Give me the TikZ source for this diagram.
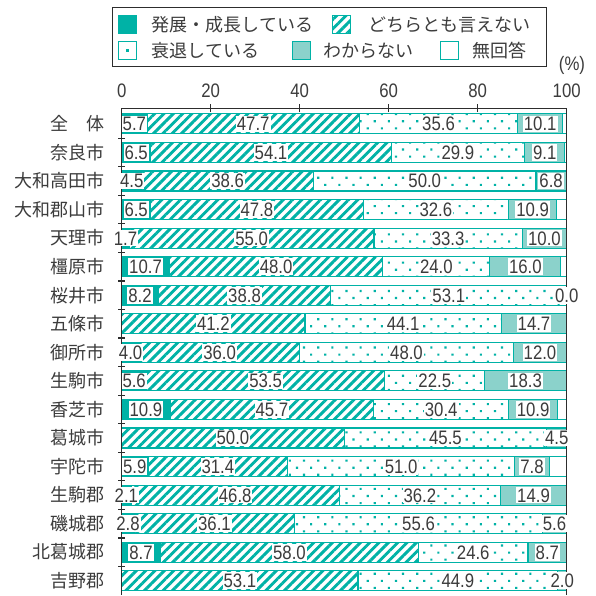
\documentclass[tikz,border=0pt]{standalone}
\usepackage{fontspec}
\setmainfont{Noto Sans CJK JP}
\newfontfamily\numfont{Liberation Sans}[FakeStretch=0.86]
\usetikzlibrary{patterns.meta, positioning}
\definecolor{barteal}{RGB}{0,178,166}
\definecolor{barlight}{RGB}{139,210,203}
\definecolor{inkgray}{RGB}{60,60,60}
\definecolor{axisgray}{RGB}{45,45,45}

\newcommand\cityrows{
    全　体/5.7/47.7/35.6/10.1,
    奈良市/6.5/54.1/29.9/9.1,
    大和高田市/4.5/38.6/50.0/6.8,
    大和郡山市/6.5/47.8/32.6/10.9,
    天理市/1.7/55.0/33.3/10.0,
    橿原市/10.7/48.0/24.0/16.0,
    桜井市/8.2/38.8/53.1/0.0,
    五條市/0/41.2/44.1/14.7,
    御所市/4.0/36.0/48.0/12.0,
    生駒市/5.6/53.5/22.5/18.3,
    香芝市/10.9/45.7/30.4/10.9,
    葛城市/0/50.0/45.5/4.5,
    宇陀市/5.9/31.4/51.0/7.8,
    生駒郡/2.1/46.8/36.2/14.9,
    磯城郡/2.8/36.1/55.6/5.6,
    北葛城郡/8.7/58.0/24.6/8.7,
    吉野郡/0/53.1/44.9/2.0}

\begin{document}
\begin{tikzpicture}[x=1pt, y=-1pt,
    every node/.style={text=inkgray},
    city/.style={anchor=east, inner sep=0pt, font=\fontsize{18pt}{18pt}\selectfont},
    val/.style={fill=white, inner xsep=1pt, inner ysep=1.4pt, text height=13.9pt,
        text depth=0pt, font=\numfont\fontsize{19.5pt}{19.5pt}\selectfont},
    scalelab/.style={inner sep=0pt, font=\numfont\fontsize{19.5pt}{19.5pt}\selectfont},
    keybox/.style={minimum size=18pt, inner sep=0pt, draw=barteal, line width=1.1pt},
    keytext/.style={inner sep=0pt, font=\fontsize{18pt}{18pt}\selectfont},
    growbar/.style={draw=barteal, line width=1.1pt, fill=barteal},
    evenbar/.style={draw=barteal, line width=1.1pt,
        pattern={Lines[angle=45, distance=6.6pt, line width=2.9pt]}, pattern color=barteal},
    downbar/.style={draw=barteal, line width=1.1pt,
        pattern={Dots[angle=45, distance=10pt, radius=1.5pt]}, pattern color=barteal},
    unkbar/.style={draw=barteal, line width=1.1pt, fill=barlight},
    nabar/.style={draw=barteal, line width=1.1pt, fill=white},
    axis/.style={draw=axisgray, line width=1.2pt}]

    \fill[white] (0,0) rectangle (596,595);
    \useasboundingbox (0,0) rectangle (596,595);

    % legend
    \draw[axis] (112.7,7.5) rectangle (546.7,66.7);
    \node[keybox, fill=barteal] (k1) at (127.8,24.5) {};
    \node[keytext, right=14pt of k1] (t1) {発展・成長している};
    \node[keybox, pattern={Lines[angle=45, distance=6.6pt, line width=2.9pt]},
        pattern color=barteal] (k2) at (341.5,24.5) {};
    \node[keytext, right=16pt of k2] (t2) {どちらとも言えない};
    \node[keybox, fill=white] (k3) at (127.8,50.5) {};
    \fill[barteal] ([shift={(-1.4pt,-1.4pt)}]k3.center) rectangle ([shift={(1.4pt,1.4pt)}]k3.center);
    \node[keytext, right=14pt of k3] (t3) {衰退している};
    \node[keybox, fill=barlight] (k4) at (301.3,50.5) {};
    \node[keytext, right=12pt of k4] (t4) {わからない};
    \node[keybox, fill=white] (k5) at (449.5,50.5) {};
    \node[keytext, right=13pt of k5] (t5) {無回答};
    \node[scalelab] (pct) at (572,65) {(\%)};

    % city names
    \foreach \lab/\a/\b/\c/\d [count=\i from 0] in \cityrows {
        \pgfmathsetmacro\yc{123.9+28.55*\i}
        \node[city] (n\i) at (104.5,\yc) {\lab};
    }

    \begin{scope}[shift={(121.7,0)}, x=4.45pt]
        \foreach \lab/\a/\b/\c/\d [count=\i from 0] in \cityrows {
            \pgfmathsetmacro\yt{113.9+28.55*\i}
            \pgfmathsetmacro\yb{133.9+28.55*\i}
            \pgfmathsetmacro\xb{min(\a+\b,100)}
            \pgfmathsetmacro\xc{min(\a+\b+\c,100)}
            \pgfmathsetmacro\xd{min(\a+\b+\c+\d,100)}
            \ifdim\a pt>0pt \draw[growbar] (0,\yt) rectangle (\a,\yb); \fi
            \draw[evenbar] (\a,\yt) rectangle (\xb,\yb);
            \draw[downbar] (\xb,\yt) rectangle (\xc,\yb);
            \ifdim\d pt>0pt \draw[unkbar] (\xc,\yt) rectangle (\xd,\yb); \fi
            \ifdim\xd pt<99.95pt \draw[nabar] (\xd,\yt) rectangle (100,\yb); \fi
        }

        % scale and frame
        \draw[axis] (0,108.3) -- (100,108.3);
        \draw[axis] (0,108.3) -- (0,595);
        \draw[axis] (100,108.3) -- (100,595);
        \foreach \v in {20,40,60,80}
            \draw[axis] (\v,104.3) -- (\v,112);
        \foreach \k in {0,...,15}
            \draw[axis] (-0.75,{138.2+28.55*\k}) -- (0.75,{138.2+28.55*\k});
        \foreach \v in {0,20,...,100}
            \node[scalelab] (s\v) at (\v,91) {\v};

        % values
        \foreach \lab/\a/\b/\c/\d [count=\i from 0] in \cityrows {
            \pgfmathsetmacro\yc{123.9+28.55*\i}
            \pgfmathsetmacro\xb{min(\a+\b,100)}
            \pgfmathsetmacro\xc{min(\a+\b+\c,100)}
            \pgfmathsetmacro\xd{min(\a+\b+\c+\d,100)}
            \edef\tmp{\a}\def\nil{0}
            \ifx\tmp\nil\else \node[val] (a\i) at ({\a/2},\yc) {\a}; \fi
            \node[val] (b\i) at ({(\a+\xb)/2},\yc) {\b};
            \node[val] (c\i) at ({(\xb+\xc)/2},\yc) {\c};
            \node[val] (d\i) at ({(\xc+\xd)/2},\yc) {\d};
        }
    \end{scope}
\end{tikzpicture}
\end{document}
